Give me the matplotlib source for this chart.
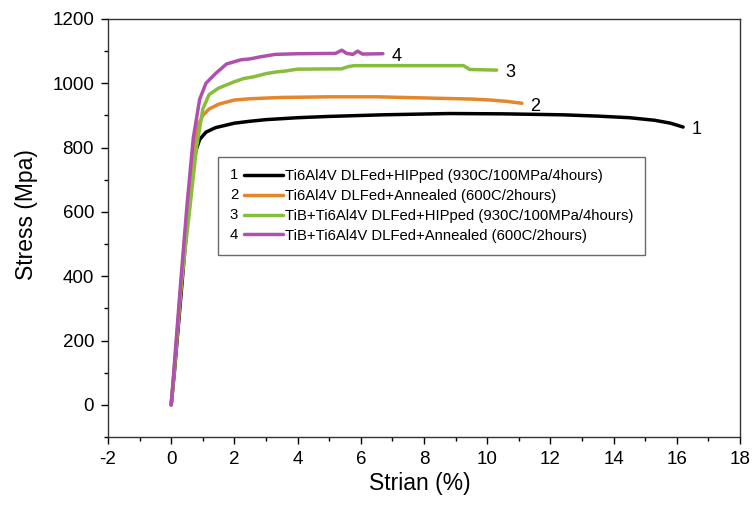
import matplotlib
matplotlib.use("Agg")
from matplotlib import pyplot as plt
from matplotlib.text import Text
from matplotlib.legend_handler import HandlerLine2D
from matplotlib.ticker import MultipleLocator

plt.rcParams["font.family"] = ["Liberation Sans", "DejaVu Sans"]
plt.rcParams["axes.unicode_minus"] = False

# curva 1: Ti6Al4V DLFed+HIPped
black_x = [0, 0.1, 0.3, 0.5, 0.65, 0.78, 0.9, 1.1, 1.4, 2.0, 2.5, 3.0, 4.0, 5.0,
           6.7, 8.8, 10.5, 12.4, 13.5, 14.5, 15.3, 15.8, 16.2]
black_y = [0, 100, 330, 560, 720, 790, 825, 848, 862, 876, 882, 887, 893, 897,
           902, 906, 905, 902, 898, 893, 885, 876, 864]

# curva 2: Ti6Al4V DLFed+Annealed
orange_x = [0, 0.1, 0.3, 0.5, 0.7, 0.85, 1.0, 1.2, 1.5, 2.0, 2.5, 3.5, 5.0, 6.5,
            8.2, 9.5, 10.1, 10.6, 11.1]
orange_y = [0, 110, 350, 590, 790, 870, 900, 920, 935, 948, 952, 956, 958, 958,
            954, 951, 948, 944, 938]

# curva 3: TiB+Ti6Al4V DLFed+HIPped
green_x = [0, 0.1, 0.3, 0.6, 0.8, 1.0, 1.2, 1.5, 2.0, 2.3, 2.6, 3.0, 3.3, 3.6,
           4.0, 5.4, 5.6, 5.8, 9.25, 9.45, 10.3]
green_y = [0, 115, 360, 620, 800, 920, 965, 985, 1005, 1015, 1020, 1030, 1035, 1038,
           1044, 1045, 1052, 1055, 1055, 1043, 1041]

# curva 4: TiB+Ti6Al4V DLFed+Annealed
purple_x = [0, 0.1, 0.3, 0.5, 0.7, 0.9, 1.1, 1.4, 1.75, 2.2, 2.5, 2.8, 3.3, 4.0,
            5.2, 5.4, 5.55, 5.75, 5.9, 6.05, 6.7]
purple_y = [0, 125, 380, 620, 830, 950, 1000, 1030, 1060, 1073, 1076, 1082, 1090, 1092,
            1093, 1103, 1093, 1090, 1100, 1091, 1092]

numeros = ["1", "2", "3", "4"]
etiquetas = [
    "Ti6Al4V DLFed+HIPped (930C/100MPa/4hours)",
    "Ti6Al4V DLFed+Annealed (600C/2hours)",
    "TiB+Ti6Al4V DLFed+HIPped (930C/100MPa/4hours)",
    "TiB+Ti6Al4V DLFed+Annealed (600C/2hours)",
]
colores = ["#000000", "#E4862A", "#86BE3C", "#B04FAE"]


class HandlerNumerado(HandlerLine2D):
    # dibuja el numero de la curva a la izquierda de la linea
    def __init__(self, numero, offset=10, **kw):
        super().__init__(**kw)
        self.numero = numero
        self.offset = offset

    def create_artists(self, legend, orig_handle, xdescent, ydescent, width,
                       height, fontsize, trans):
        artistas = super().create_artists(legend, orig_handle, xdescent - self.offset,
                                          ydescent, width - self.offset, height,
                                          fontsize, trans)
        t = Text(-xdescent, (height - ydescent) / 2 - 0.5, self.numero,
                 fontsize=fontsize, va="center", ha="left", transform=trans)
        return list(artistas) + [t]


fig, ax = plt.subplots(figsize=(7.52, 5.08), dpi=100)
fig.subplots_adjust(left=0.1436, right=0.984, top=0.9626, bottom=0.1398)

series = [(black_x, black_y), (orange_x, orange_y), (green_x, green_y), (purple_x, purple_y)]
lineas = []
for (xs, ys), c, lab, num in zip(series, colores, etiquetas, numeros):
    ln, = ax.plot(xs, ys, color=c, lw=2.5, label=lab, solid_capstyle="round")
    lineas.append(ln)
    ax.annotate(num, xy=(xs[-1], ys[-1]), xytext=(6, -2), textcoords="offset points",
                ha="left", va="center", fontsize=13)

ax.set_xlim(-2, 18)
ax.set_ylim(-100, 1200)
ax.xaxis.set_major_locator(MultipleLocator(2))
ax.xaxis.set_minor_locator(MultipleLocator(1))
ax.yaxis.set_major_locator(MultipleLocator(200))
ax.yaxis.set_minor_locator(MultipleLocator(100))
ax.tick_params(which="major", length=5, width=1, labelsize=13.5, pad=5, direction="out")
ax.tick_params(which="minor", length=3, width=1, direction="out")
for s in ax.spines.values():
    s.set_linewidth(1)
    s.set_color("#333333")

ax.set_xlabel("Strian (%)", fontsize=16.5)
ax.set_ylabel("Stress (Mpa)", fontsize=16.5)
ax.xaxis.set_label_coords(0.494, -0.084)
ax.yaxis.set_label_coords(-0.110, 0.532)

leg = ax.legend(
    handles=lineas, labels=etiquetas, loc="upper left",
    bbox_to_anchor=(0.174, 0.670), borderaxespad=0, fontsize=10.7,
    handlelength=3.6, handletextpad=0.1, labelspacing=0.4,
    frameon=True, fancybox=False, edgecolor="#444444", borderpad=0.8,
    handler_map={ln: HandlerNumerado(n) for ln, n in zip(lineas, numeros)},
)
leg.get_frame().set_linewidth(1)

plt.savefig("out.png", dpi=100)
plt.close()
